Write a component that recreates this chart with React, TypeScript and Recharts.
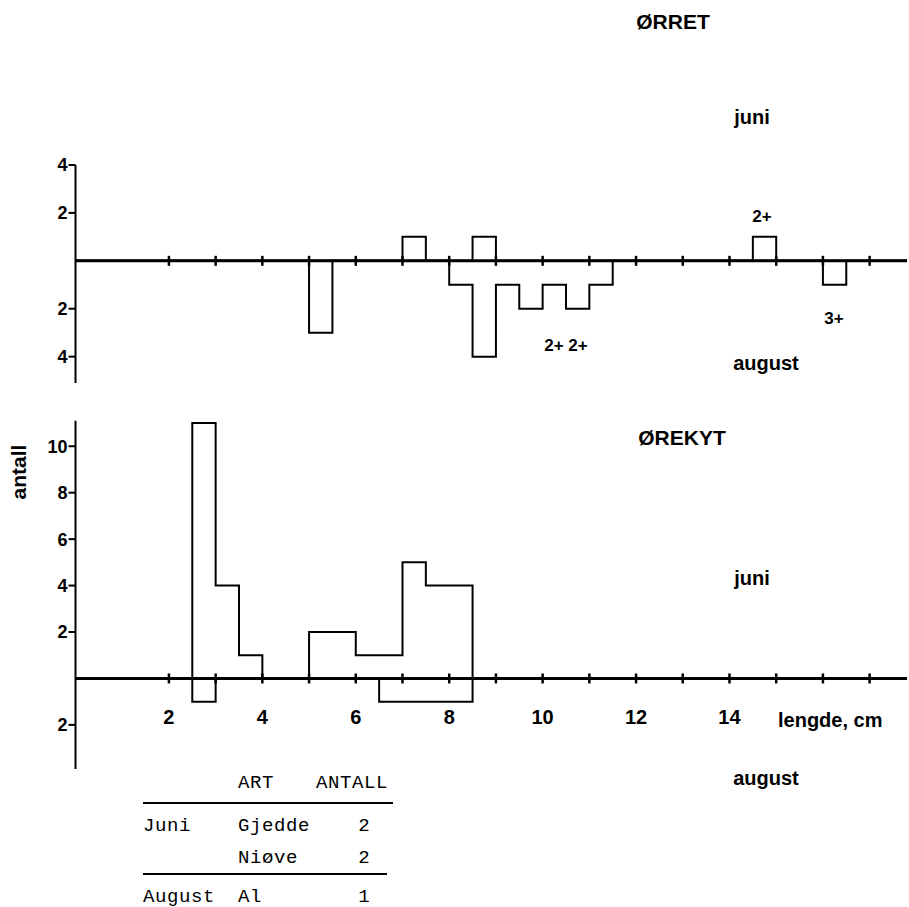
import React from "react";
import {
  ComposedChart,
  Line,
  XAxis,
  YAxis,
  ReferenceLine,
  ReferenceDot,
} from "recharts";

// length bins in cm: [from, to) and number of fish
const orretJuniFrom = [7, 8.5, 14.5];
const orretJuniTo = [7.5, 9, 15];
const orretJuniCount = [1, 1, 1];

const orretAugustFrom = [5, 8, 8.5, 9, 9.5, 10, 10.5, 11, 16];
const orretAugustTo = [5.5, 8.5, 9, 9.5, 10, 10.5, 11, 11.5, 16.5];
const orretAugustCount = [3, 1, 4, 1, 2, 1, 2, 1, 1];

const orekytJuniFrom = [2.5, 3, 3.5, 5, 6, 7, 7.5];
const orekytJuniTo = [3, 3.5, 4, 6, 7, 7.5, 8.5];
const orekytJuniCount = [11, 4, 1, 2, 1, 5, 4];

const orekytAugustFrom = [2.5, 6.5];
const orekytAugustTo = [3, 8.5];
const orekytAugustCount = [1, 1];

const lengthTicks = [2, 3, 4, 5, 6, 7, 8, 9, 10, 11, 12, 13, 14, 15, 16, 17];
const lengthLabels = [2, 4, 6, 8, 10, 12, 14];
const orretYTicks = [4, 2, -2, -4];
const orekytYTicks = [10, 8, 6, 4, 2, -2];

const otherSpecies = ["Gjedde", "Niøve", "Al"];
const otherMonth = ["Juni", "", "August"];
const otherCount = [2, 2, 1];

const X_MAX = 17.8;
const SANS = '"Liberation Sans", Arial, sans-serif';
const MONO = '"Liberation Mono", "Courier New", monospace';

function countAt(x: number, from: number[], to: number[], n: number[]) {
  for (let i = 0; i < from.length; i++) {
    if (x >= from[i] && x < to[i]) return n[i];
  }
  return 0;
}

// step table: value holds from this x until the next one
function stepTable(
  jf: number[], jt: number[], jn: number[],
  af: number[], at: number[], an: number[]
) {
  const xs = Array.from(new Set([0, X_MAX, ...jf, ...jt, ...af, ...at])).sort(
    (a, b) => a - b
  );
  return xs.map((x) => ({
    x,
    juni: countAt(x, jf, jt, jn),
    august: -countAt(x, af, at, an),
  }));
}

const orretData = stepTable(
  orretJuniFrom, orretJuniTo, orretJuniCount,
  orretAugustFrom, orretAugustTo, orretAugustCount
);
const orekytData = stepTable(
  orekytJuniFrom, orekytJuniTo, orekytJuniCount,
  orekytAugustFrom, orekytAugustTo, orekytAugustCount
);

function Panel(props: {
  data: any[];
  domain: [number, number];
  ticks: number[];
  margin: { top: number; right: number; bottom: number; left: number };
  labels: boolean;
}) {
  const { data, domain, ticks, margin, labels } = props;
  return (
    <ComposedChart width={909} height={400} data={data} margin={margin}>
      <XAxis dataKey="x" type="number" domain={[0, X_MAX]} hide allowDataOverflow />
      <YAxis
        type="number"
        domain={domain}
        ticks={ticks}
        interval={0}
        width={60}
        allowDataOverflow
        axisLine={{ stroke: "#000", strokeWidth: 2 }}
        tickLine={{ stroke: "#000", strokeWidth: 2 }}
        tickSize={7}
        tickMargin={1}
        tick={{ fill: "#000", fontSize: 18, fontWeight: 700, fontFamily: SANS }}
        tickFormatter={(v: number) => String(Math.abs(v))}
      />
      <ReferenceLine y={0} stroke="#000" strokeWidth={3} />
      {lengthTicks.map((t) => (
        <ReferenceDot
          key={t}
          x={t}
          y={0}
          r={0}
          shape={(p: any) => (
            <g>
              <line x1={p.cx} x2={p.cx} y1={p.cy - 5} y2={p.cy + 5} stroke="#000" strokeWidth={2.5} />
              {labels && lengthLabels.includes(t) && (
                <text
                  x={p.cx}
                  y={p.cy + 46}
                  textAnchor="middle"
                  fontSize={20}
                  fontWeight={700}
                  fontFamily={SANS}
                  fill="#000"
                >
                  {t}
                </text>
              )}
            </g>
          )}
        />
      ))}
      <Line
        type="stepAfter"
        dataKey="juni"
        stroke="#000"
        strokeWidth={2}
        dot={false}
        isAnimationActive={false}
      />
      <Line
        type="stepAfter"
        dataKey="august"
        stroke="#000"
        strokeWidth={2}
        dot={false}
        isAnimationActive={false}
      />
    </ComposedChart>
  );
}

function Txt(props: { x: number; y: number; size: number; children: any; anchor?: string; rotate?: boolean; font?: string; weight?: number; spacing?: number }) {
  const { x, y, size, children, anchor, rotate, font, weight, spacing } = props;
  const tx = anchor === "start" ? "0" : anchor === "end" ? "-100%" : "-50%";
  return (
    <div
      style={{
        position: "absolute",
        left: x,
        top: y,
        transform: `translate(${tx}, -50%)${rotate ? " rotate(-90deg)" : ""}`,
        fontFamily: font || SANS,
        fontWeight: weight ?? 700,
        fontSize: size,
        letterSpacing: spacing ?? 0,
        lineHeight: 1,
        whiteSpace: "nowrap",
        color: "#000",
      }}
    >
      {children}
    </div>
  );
}

export default function App() {
  return (
    <div
      style={{
        position: "absolute",
        left: 0,
        top: 0,
        width: 909,
        height: 907,
        overflow: "hidden",
        background: "#fff",
      }}
    >
      <div style={{ position: "absolute", left: 0, top: 0 }}>
        <Panel
          data={orretData}
          domain={[-5.1, 4]}
          ticks={orretYTicks}
          margin={{ top: 165, right: 2, bottom: 17, left: 15.5 }}
          labels={false}
        />
      </div>
      <div style={{ position: "absolute", left: 0, top: 400 }}>
        <Panel
          data={orekytData}
          domain={[-3.9, 11.1]}
          ticks={orekytYTicks}
          margin={{ top: 20.7, right: 2, bottom: 31, left: 15.5 }}
          labels
        />
      </div>

      <Txt x={673} y={21} size={21}>ØRRET</Txt>
      <Txt x={752} y={117} size={20}>juni</Txt>
      <Txt x={762} y={216} size={17}>2+</Txt>
      <Txt x={834} y={318} size={17}>3+</Txt>
      <Txt x={566} y={345} size={17}>2+ 2+</Txt>
      <Txt x={766} y={363} size={20}>august</Txt>

      <Txt x={682} y={437} size={21}>ØREKYT</Txt>
      <Txt x={752} y={578} size={20}>juni</Txt>
      <Txt x={778} y={720} size={20} anchor="start">lengde, cm</Txt>
      <Txt x={766} y={778} size={20}>august</Txt>
      <Txt x={18} y={472} size={21} rotate>antall</Txt>

      <Txt x={238} y={783} size={19} anchor="start" font={MONO} weight={400} spacing={0.6}>ART</Txt>
      <Txt x={388} y={783} size={19} anchor="end" font={MONO} weight={400} spacing={0.6}>ANTALL</Txt>
      <div style={{ position: "absolute", left: 143, top: 802, width: 250, height: 2, background: "#000" }} />
      {otherSpecies.map((s, i) => {
        const y = i < 2 ? 826 + i * 32 : 897;
        return (
          <React.Fragment key={s}>
            <Txt x={143} y={y} size={19} anchor="start" font={MONO} weight={400} spacing={0.6}>{otherMonth[i]}</Txt>
            <Txt x={238} y={y} size={19} anchor="start" font={MONO} weight={400} spacing={0.6}>{s}</Txt>
            <Txt x={364} y={y} size={19} font={MONO} weight={400}>{otherCount[i]}</Txt>
          </React.Fragment>
        );
      })}
      <div style={{ position: "absolute", left: 143, top: 873, width: 244, height: 2, background: "#000" }} />
    </div>
  );
}
